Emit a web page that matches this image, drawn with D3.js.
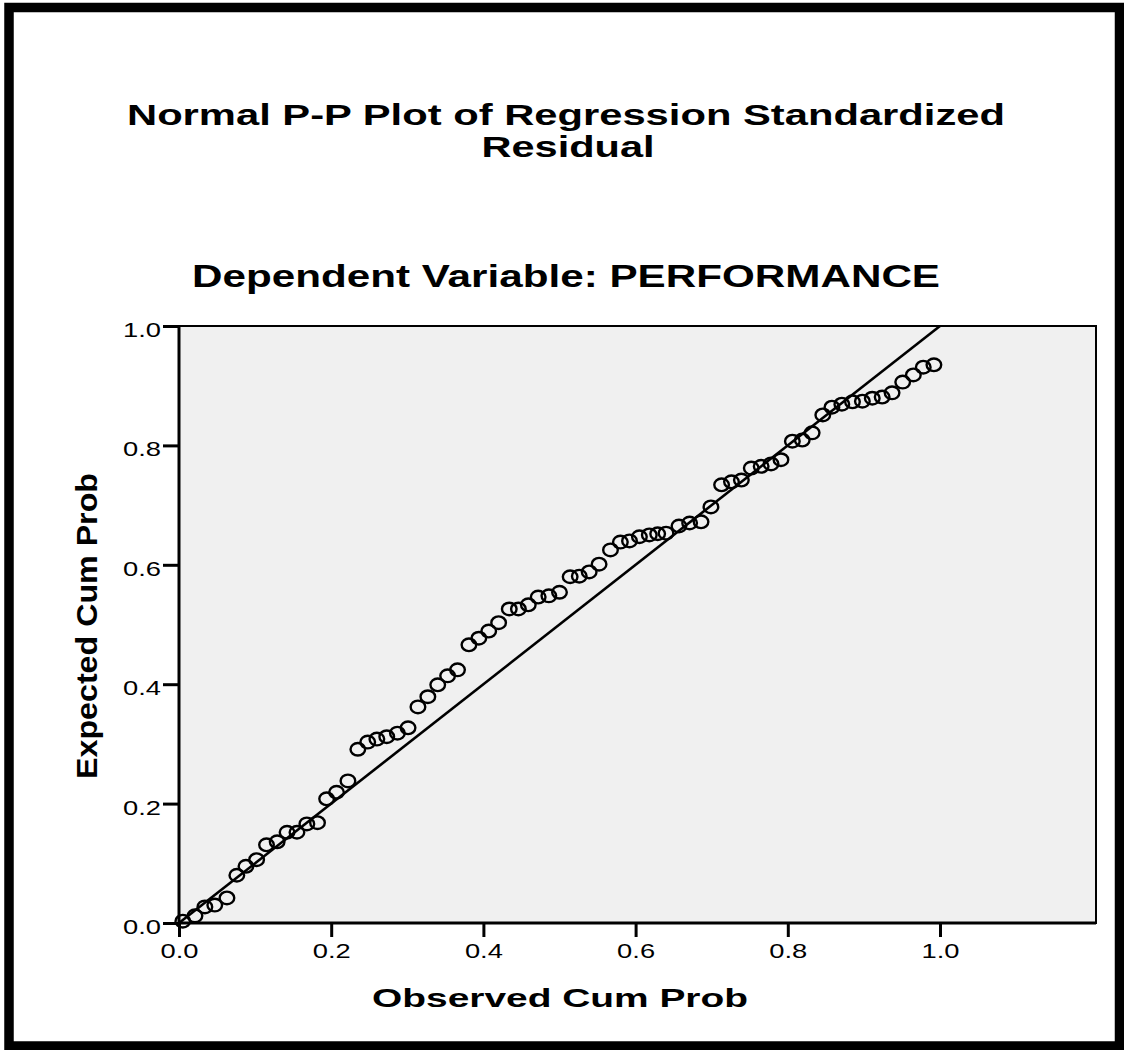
<!DOCTYPE html>
<html>
<head>
<meta charset="utf-8">
<script src="https://cdn.jsdelivr.net/npm/d3@7"></script>
<style>
  body { margin: 0; background: #fff; }
  svg text { font-family: "Liberation Sans", Arial, sans-serif; fill: #000; }
</style>
</head>
<body>
<div id="chart"></div>
<script>
// Set dimensions
const width = 1124;
const height = 1050;

// Data
const observed = [0.005, 0.021, 0.034, 0.047, 0.063, 0.076, 0.088, 0.102, 0.115, 0.129,
  0.142, 0.155, 0.168, 0.182, 0.194, 0.207, 0.222, 0.235, 0.248, 0.260,
  0.273, 0.287, 0.301, 0.314, 0.327, 0.340, 0.353, 0.366, 0.381, 0.394,
  0.407, 0.420, 0.434, 0.446, 0.459, 0.472, 0.486, 0.500, 0.514, 0.526,
  0.539, 0.552, 0.567, 0.580, 0.592, 0.605, 0.618, 0.629, 0.640, 0.657,
  0.671, 0.686, 0.699, 0.713, 0.726, 0.739, 0.752, 0.765, 0.778, 0.791,
  0.806, 0.819, 0.832, 0.846, 0.858, 0.871, 0.885, 0.898, 0.911, 0.924,
  0.937, 0.951, 0.965, 0.978, 0.992];
const expected = [0.003, 0.012, 0.027, 0.030, 0.042, 0.080, 0.095, 0.106, 0.131, 0.136,
  0.152, 0.152, 0.166, 0.168, 0.208, 0.219, 0.238, 0.291, 0.303, 0.308,
  0.312, 0.318, 0.327, 0.362, 0.379, 0.399, 0.414, 0.424, 0.466, 0.477,
  0.489, 0.503, 0.526, 0.526, 0.533, 0.546, 0.548, 0.554, 0.580, 0.581,
  0.588, 0.601, 0.625, 0.638, 0.640, 0.647, 0.650, 0.652, 0.653, 0.665,
  0.670, 0.672, 0.697, 0.734, 0.739, 0.742, 0.762, 0.765, 0.769, 0.776,
  0.807, 0.809, 0.821, 0.851, 0.864, 0.869, 0.873, 0.874, 0.879, 0.881,
  0.888, 0.906, 0.918, 0.931, 0.935];
const xTicks = [0, 0.2, 0.4, 0.6, 0.8, 1.0];
const yTicks = [0, 0.2, 0.4, 0.6, 0.8, 1.0];
const refLine = [0, 1];

const data = observed.map((d, i) => ({ x: d, y: expected[i] }));

// Append SVG
const svg = d3.select("#chart")
  .append("svg")
  .attr("width", width)
  .attr("height", height);

svg.append("rect")
  .attr("width", width).attr("height", height)
  .attr("fill", "#fff");

// outer frame
svg.append("rect")
  .attr("x", 9).attr("y", 7.5)
  .attr("width", 1110.5).attr("height", 1038.5)
  .attr("fill", "none")
  .attr("stroke", "#000")
  .attr("stroke-width", 9.5);

// scales
const x = d3.scaleLinear().domain([0, 1.205]).range([179, 1096]);
const y = d3.scaleLinear().domain([0, 1]).range([923, 326]);

// plot background
svg.append("rect")
  .attr("x", x(0)).attr("y", y(1))
  .attr("width", x(1.205) - x(0))
  .attr("height", y(0) - y(1))
  .attr("fill", "#f0f0f0")
  .attr("stroke", "#000")
  .attr("stroke-width", 2);

// titles
svg.append("text")
  .attr("x", 566).attr("y", 125)
  .attr("text-anchor", "middle")
  .attr("font-size", 30).attr("font-weight", "bold")
  .attr("textLength", 878).attr("lengthAdjust", "spacingAndGlyphs")
  .text("Normal P-P Plot of Regression Standardized");

svg.append("text")
  .attr("x", 568).attr("y", 157)
  .attr("text-anchor", "middle")
  .attr("font-size", 30).attr("font-weight", "bold")
  .attr("textLength", 173).attr("lengthAdjust", "spacingAndGlyphs")
  .text("Residual");

svg.append("text")
  .attr("x", 566).attr("y", 287)
  .attr("text-anchor", "middle")
  .attr("font-size", 32).attr("font-weight", "bold")
  .attr("textLength", 748).attr("lengthAdjust", "spacingAndGlyphs")
  .text("Dependent Variable: PERFORMANCE");

// axes
const xAxis = svg.append("g")
  .attr("transform", `translate(0,${y(0)})`)
  .call(d3.axisBottom(x).tickValues(xTicks).tickFormat(d3.format(".1f"))
    .tickSize(14).tickPadding(6));
const yAxis = svg.append("g")
  .attr("transform", `translate(${x(0)},0)`)
  .call(d3.axisLeft(y).tickValues(yTicks).tickFormat(d3.format(".1f"))
    .tickSize(16).tickPadding(2));

[xAxis, yAxis].forEach(g => {
  g.select(".domain").attr("stroke", "#000").attr("stroke-width", 3);
  g.selectAll(".tick line").attr("stroke", "#000").attr("stroke-width", 3);
  g.selectAll(".tick text")
    .attr("font-family", "Liberation Sans, Arial, sans-serif")
    .attr("font-size", 21).attr("fill", "#000")
    .attr("textLength", 38).attr("lengthAdjust", "spacingAndGlyphs");
});
xAxis.select(".domain").attr("d", `M${x(0)},0H${x(1.205)}`);
yAxis.select(".domain").attr("d", `M0,${y(0)}V${y(1)}`);
yAxis.selectAll(".tick text").attr("dy", "0.5em");

// axis titles
svg.append("text")
  .attr("x", 560).attr("y", 1007)
  .attr("text-anchor", "middle")
  .attr("font-size", 25).attr("font-weight", "bold")
  .attr("textLength", 376).attr("lengthAdjust", "spacingAndGlyphs")
  .text("Observed Cum Prob");

svg.append("text")
  .attr("transform", "translate(97,626) rotate(-90)")
  .attr("text-anchor", "middle")
  .attr("font-size", 30).attr("font-weight", "bold")
  .attr("textLength", 306).attr("lengthAdjust", "spacingAndGlyphs")
  .text("Expected Cum Prob");

// reference line
svg.append("line")
  .attr("x1", x(refLine[0])).attr("y1", y(refLine[0]))
  .attr("x2", x(refLine[1])).attr("y2", y(refLine[1]))
  .attr("stroke", "#000")
  .attr("stroke-width", 2.6);

// points
svg.append("g")
  .selectAll("ellipse")
  .data(data)
  .join("ellipse")
  .attr("cx", d => x(d.x))
  .attr("cy", d => y(d.y))
  .attr("rx", 7.3)
  .attr("ry", 6.3)
  .attr("fill", "none")
  .attr("stroke", "#000")
  .attr("stroke-width", 2.4);
</script>
</body>
</html>
